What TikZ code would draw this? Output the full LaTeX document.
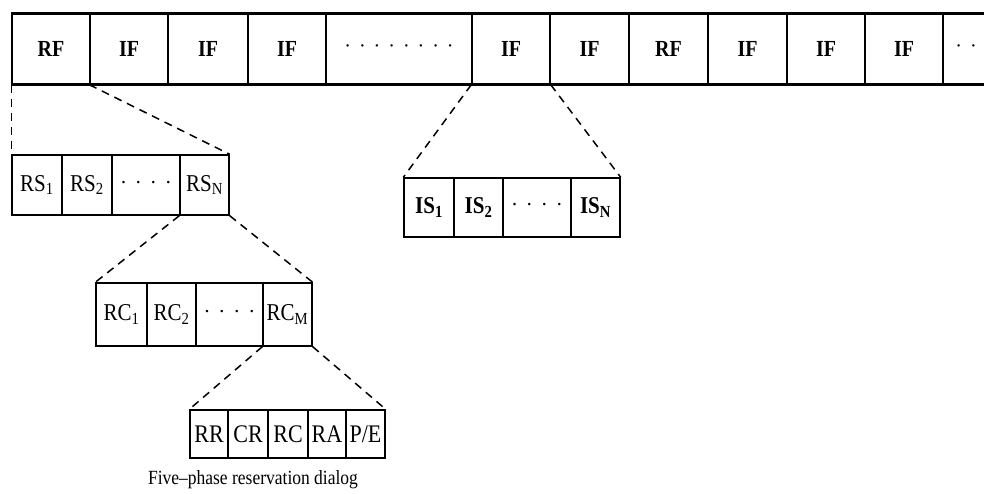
\documentclass[tikz,border=0pt]{standalone}
\usepackage{fontspec}
\setmainfont{Liberation Serif}
\newcommand{\dd}{\hspace{8pt}·}
\newcommand{\tl}[1]{\scalebox{1}[1.15]{#1}}
\begin{document}
\begin{tikzpicture}[x=1pt,y=-1pt,
  cell/.style={draw, line width=1.4pt, inner sep=0pt, anchor=center},
  topf/.style={cell, minimum height=70pt, font=\fontsize{20}{24}\selectfont\bfseries},
  rsf/.style={cell, minimum height=60pt, font=\fontsize{21}{24}\selectfont},
  isf/.style={cell, minimum height=59pt, font=\fontsize{21}{24}\selectfont\bfseries},
  rcf/.style={cell, minimum height=63pt, font=\fontsize{21}{24}\selectfont},
  phf/.style={cell, minimum height=48pt, font=\fontsize{22}{24}\selectfont},
  zoomline/.style={line width=1.5pt, dash pattern=on 8pt off 6pt},
  thickedge/.style={line width=2.6pt}]
\useasboundingbox (0,0) rectangle (984,493);
\clip (0,0) rectangle (984,493);
% top frame bar
\node[topf, minimum width=78pt] (rf1) at (51,49) {\tl{RF}};
\node[topf, minimum width=78pt] (if1) at (129,49) {\tl{IF}};
\node[topf, minimum width=80pt] (if2) at (208,49) {\tl{IF}};
\node[topf, minimum width=78pt] (if3) at (287,49) {\tl{IF}};
\node[topf, minimum width=146pt, font=\fontsize{20}{24}\selectfont] (td) at (399,49) {·\dd\dd\dd\dd\dd\dd\dd};
\node[topf, minimum width=78pt] (if4) at (511,49) {\tl{IF}};
\node[topf, minimum width=79pt] (if5) at (589.5,49) {\tl{IF}};
\node[topf, minimum width=79pt] (rf2) at (668.5,49) {\tl{RF}};
\node[topf, minimum width=79pt] (if6) at (747.5,49) {\tl{IF}};
\node[topf, minimum width=78pt] (if7) at (826,49) {\tl{IF}};
\node[topf, minimum width=78pt] (if8) at (904,49) {\tl{IF}};
\node[topf, minimum width=78pt] (td2) at (982,49) {};
\node[font=\fontsize{20}{24}\selectfont, inner sep=0pt] (td2t) at (966,49) {·\dd};
\draw[thickedge] (rf1.north west) -- (td2.north east);
\draw[thickedge] (rf1.south west) -- (td2.south east);
% RS row
\node[rsf, minimum width=50pt] (rs1) at (37,185) {\tl{RS\textsubscript{1}}};
\node[rsf, minimum width=50pt] (rs2) at (87,185) {\tl{RS\textsubscript{2}}};
\node[rsf, minimum width=68pt] (rsd) at (146,185) {·\dd\dd\dd};
\node[rsf, minimum width=49pt] (rsn) at (204.5,185) {\tl{RS\textsubscript{N}}};
% IS row
\node[isf, minimum width=50pt] (is1) at (429,207.5) {\tl{IS\textsubscript{1}}};
\node[isf, minimum width=49pt] (is2) at (478.5,207.5) {\tl{IS\textsubscript{2}}};
\node[isf, minimum width=68pt, font=\fontsize{21}{24}\selectfont] (isd) at (537,207.5) {·\dd\dd\dd};
\node[isf, minimum width=49pt] (isn) at (595.5,207.5) {\tl{IS\textsubscript{N}}};
% RC row
\node[rcf, minimum width=51pt] (rc1) at (121.5,314.5) {\tl{RC\textsubscript{1}}};
\node[rcf, minimum width=49pt] (rc2) at (171.5,314.5) {\tl{RC\textsubscript{2}}};
\node[rcf, minimum width=67pt] (rcd) at (229.5,314.5) {·\dd\dd\dd};
\node[rcf, minimum width=49pt] (rcm) at (287.5,314.5) {\tl{RC\textsubscript{M}}};
% five phases
\node[phf, minimum width=38pt] (rr) at (209,434) {\tl{RR}};
\node[phf, minimum width=40pt] (cr) at (248,434) {\tl{CR}};
\node[phf, minimum width=40pt] (rc) at (288,434) {\tl{RC}};
\node[phf, minimum width=38pt] (ra) at (327,434) {\tl{RA}};
\node[phf, minimum width=39pt] (pe) at (365.5,434) {\tl{P/E}};
\node[font=\fontsize{17.5}{20}\selectfont, inner sep=0pt] (cap) at (253,480) {\tl{Five–phase reservation dialog}};
% zoom connectors
\draw[zoomline] (rf1.south west) -- (rs1.north west);
\draw[zoomline] (if1.south west) -- (rsn.north east);
\draw[zoomline] (if4.south west) -- (is1.north west);
\draw[zoomline] (if4.south east) -- (isn.north east);
\draw[zoomline] (rsn.south west) -- (rc1.north west);
\draw[zoomline] (rsn.south east) -- (rcm.north east);
\draw[zoomline] (rcm.south west) -- (rr.north west);
\draw[zoomline] (rcm.south east) -- (pe.north east);
\end{tikzpicture}
\end{document}
